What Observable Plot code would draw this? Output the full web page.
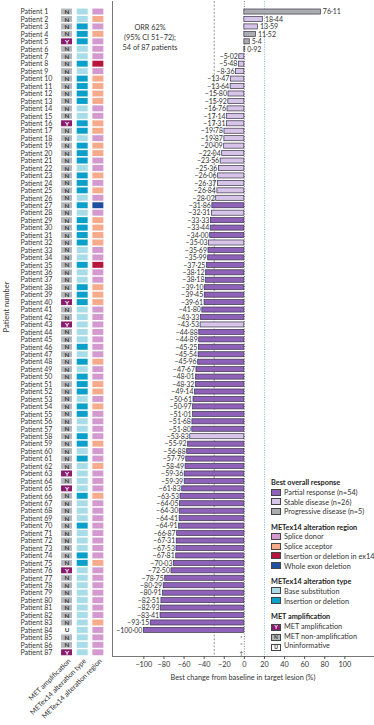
<!DOCTYPE html>
<html><head><meta charset="utf-8">
<script src="https://cdn.jsdelivr.net/npm/d3@7"></script>
<script src="https://cdn.jsdelivr.net/npm/@observablehq/plot@0.6"></script>
<style>
body{margin:0;background:#fff;}
#wrap{position:relative;width:374px;height:725px;font-family:Lato,"Open Sans",sans-serif;color:#333;overflow:hidden;background:#fff;}
#wrap svg{position:absolute;top:0;left:0;}
.lg{position:absolute;left:271px;font-size:7.3px;line-height:10px;height:10px;white-space:nowrap;color:#333;}
.lg.b{font-weight:700;color:#222;}
.sw{display:inline-block;width:8px;height:5px;border:0.8px solid #444;margin-right:3px;vertical-align:-0.5px;box-sizing:content-box;font-size:5px;line-height:5px;text-align:center;font-weight:700;}
#orr{position:absolute;left:95px;top:23px;width:110px;text-align:center;font-size:7.3px;line-height:10px;color:#333;}
#xt{position:absolute;left:112px;width:262px;top:673px;text-align:center;font-size:7.3px;color:#333;}
</style></head>
<body><div id="wrap"></div>
<script>
const patients = d3.range(1, 88).map(i => "Patient " + i);
const change = [76.11, 18.44, 13.59, 11.52, 5.4, 0.92, -5.02, -5.48, -8.36, -13.47, -13.64, -15.80, -15.92, -16.76, -17.14, -17.31, -19.78, -19.87, -20.09, -22.04, -23.56, -25.36, -26.06, -26.37, -26.84, -28.02, -31.86, -32.31, -33.33, -33.44, -34.00, -35.03, -35.69, -35.99, -37.25, -38.12, -38.18, -39.10, -39.45, -39.61, -41.80, -43.33, -43.53, -44.88, -44.89, -45.25, -45.54, -45.96, -47.67, -48.01, -48.32, -49.14, -50.61, -50.97, -51.01, -51.68, -51.80, -53.83, -55.92, -56.88, -57.79, -58.49, -59.36, -59.39, -61.83, -63.53, -64.05, -64.30, -64.41, -64.91, -66.87, -67.31, -67.53, -67.81, -70.03, -72.50, -78.75, -80.29, -80.91, -82.51, -82.93, -83.41, -93.15, -100.00, null, null, null];
const response = ["PD","SD","SD","PD","PD","PD",
 "SD","SD","SD","SD","SD","SD","SD","SD","SD","SD","SD","SD","SD","SD","SD","SD","SD","SD","SD","SD",
 "PR","SD","PR","PR","PR","SD","PR","PR","PR","PR","PR","PR","PR","PR","PR","PR","SD",
 "PR","PR","PR","PR","PR","PR","PR","PR","PR","PR","PR","PR","PR","PR","SD",
 "PR","PR","PR","PR","PR","PR","PR","PR","PR","PR","PR","PR","PR","PR","PR","PR","PR","PR","PR","PR","PR","PR","PR","PR","PR","PR",
 null,null,null];
const valueLabels = {"Patient 5": "5·4"};
const markers = [["Patient 85","*"],["Patient 86","*"],["Patient 87","†"]];
const amplification = ["N","N","N","N","Y","N","N","N","N","N","N","N","N","N","N",
 "Y","N","N","N","N","N","N","N","N","N","N","N","N","N","N","N",
 "N","N","N","N","N","N","N","N","Y","N","N","Y","N","N","N","N",
 "N","N","N","N","N","N","N","N","N","N","N","N","N","N","N","Y",
 "N","Y","N","N","N","N","N","N","N","N","N","N","Y","N","N","N",
 "N","N","N","N","U","N","N","Y"];
const altType = ["B","B","I","I","I","B","B","I","B","I","I","I","I","B","B",
 "I","I","B","I","I","I","B","I","I","I","B","I","B","I","I","I",
 "I","B","B","I","B","B","I","I","I","B","B","B","B","B","I","B",
 "I","B","I","I","I","B","I","I","B","B","I","I","B","I","B","B",
 "B","B","I","B","B","B","I","B","B","B","I","I","B","B","B","B",
 "B","B","B","B","B","B","B","B"];
const altRegion = ["D","A","D","A","D","D","D","X","D","A","A","A","A","D","D",
 "A","A","D","A","A","D","D","A","D","A","D","W","D","A","A","A",
 "A","D","D","X","D","D","A","A","A","D","D","D","D","D","D","D",
 "A","D","D","A","A","D","A","D","D","D","D","A","D","D","A","D",
 "D","D","A","D","D","D","D","D","D","D","D","A","D","D","D","D",
 "D","D","D","A","D","D","D","D"];
const columns = ["MET amplification","METex14 alteration type","METex14 alteration region"];
const xTicks = [-100,-80,-60,-40,-20,0,20,40,60,80,100];

const respColor = {PR:"#8e62b8", SD:"#d6c5e8", PD:"#a9acb1"};
const ampColor = {Y:"#8a1c6e", N:"#b4b7bb", U:"#ffffff"};
const typeColor = {B:"#a8dce9", I:"#0aa0c9"};
const regColor = {D:"#d49ad0", A:"#f8ab8c", X:"#b8153c", W:"#1f4f9f"};

const fmt = v => (v < 0 ? "−" : "") + Math.abs(v).toFixed(2).replace(".", "·");
const rows = patients.map((p, i) => ({p, v: change[i], r: response[i]}));
const bars = rows.filter(d => d.v != null).map(d => ({...d, lab: valueLabels[d.p] || fmt(d.v)}));
const mk = markers.map(([p, m]) => ({p, m}));

const yBand = {domain: patients, range: [7.8, 656], paddingInner: 0.32, paddingOuter: 0.16, axis: null, round: false};
const sty = {background: "transparent", overflow: "visible", fontFamily: "Lato, 'Open Sans', sans-serif", color: "#333"};

const barPlot = Plot.plot({
  width: 374, height: 725,
  marginLeft: 112, marginRight: 0, marginTop: 1, marginBottom: 69,
  style: sty,
  x: {domain: [-131.2, 129.5], axis: null},
  y: yBand,
  marks: [
    Plot.ruleX([0], {stroke: "#444", strokeWidth: 0.7, strokeDasharray: "1,1.5"}),
    Plot.ruleX([-30], {stroke: "#666", strokeWidth: 0.7, strokeDasharray: "2,1.6"}),
    Plot.ruleX([20], {stroke: "#7fb0d0", strokeWidth: 0.8, strokeDasharray: "1.2,1.2"}),
    Plot.barX(bars, {x: "v", y: "p", fill: d => respColor[d.r], stroke: "#3d3347", strokeWidth: 0.7}),
    Plot.text(bars.filter(d => d.v < 0), {x: "v", y: "p", text: "lab", textAnchor: "end", dx: -1.5, fontSize: 7, fill: "#333"}),
    Plot.text(bars.filter(d => d.v >= 0), {x: "v", y: "p", text: "lab", textAnchor: "start", dx: 2, fontSize: 7, fill: "#333"}),
    Plot.text(mk, {x: () => 0, y: "p", text: "m", dx: -3, fontSize: 6, fill: "#333"}),
    Plot.ruleX([-131.2], {stroke: "#555", strokeWidth: 0.8}),
    Plot.frame({anchor: "bottom", stroke: "#555", strokeWidth: 0.8}),
    Plot.axisX({ticks: xTicks, tickFormat: d => d < 0 ? "−" + (-d) : String(d), tickSize: 3, tickPadding: 2.5, fontSize: 7.3, label: null, stroke: "#555"})
  ]
});

const cellRows = [];
patients.forEach((p, i) => {
  cellRows.push({p, col: columns[0], fill: ampColor[amplification[i]], letter: amplification[i]});
  cellRows.push({p, col: columns[1], fill: typeColor[altType[i]]});
  cellRows.push({p, col: columns[2], fill: regColor[altRegion[i]]});
});

const leftPlot = Plot.plot({
  width: 112, height: 725,
  marginLeft: 58.7, marginRight: 6.3, marginTop: 7.8, marginBottom: 69,
  style: sty,
  x: {domain: columns, paddingInner: 0.3, paddingOuter: 0.15, axis: null, round: false},
  y: {...yBand, paddingInner: 0.2, paddingOuter: 0.1},
  color: {type: "identity"},
  marks: [
    Plot.cell(cellRows, {x: "col", y: "p", fill: "fill"}),
    Plot.text(cellRows.filter(d => d.letter), {x: "col", y: "p", text: "letter", fill: d => d.letter === "Y" ? "#ffffff" : "#3a3a3a", fontSize: 6.3, fontWeight: "bold"}),
    Plot.text(patients, {y: d => d, text: d => d, frameAnchor: "left", textAnchor: "start", dx: -38.7, fontSize: 7, fill: "#333"}),
    Plot.text(["Patient number"], {text: d => d, frameAnchor: "left", rotate: -90, dx: -52.5, fontSize: 7.5, fill: "#333"}),
    Plot.text(columns, {x: d => d, text: d => d, frameAnchor: "bottom", textAnchor: "end", rotate: -45, dx: 4, dy: 5, fontSize: 7, fill: "#333"})
  ]
});

const wrap = document.getElementById("wrap");
wrap.appendChild(barPlot);
wrap.appendChild(leftPlot);

const orr = document.createElement("div");
orr.id = "orr";
orr.innerHTML = "ORR 62%<br>(95% CI 51–72);<br>54 of 87 patients";
wrap.appendChild(orr);

const xt = document.createElement("div");
xt.id = "xt";
xt.textContent = "Best change from baseline in target lesion (%)";
wrap.appendChild(xt);

const legend = [
  {t: "Best overall response", b: true, y: 483},
  {t: "Partial response (n=54)", c: respColor.PR, y: 493},
  {t: "Stable disease (n=26)", c: respColor.SD, y: 502.7},
  {t: "Progressive disease (n=5)", c: respColor.PD, y: 512.3},
  {t: "METex14 alteration region", b: true, y: 527.5},
  {t: "Splice donor", c: regColor.D, y: 537.2},
  {t: "Splice acceptor", c: regColor.A, y: 547},
  {t: "Insertion or deletion in ex14", c: regColor.X, y: 556.8},
  {t: "Whole exon deletion", c: regColor.W, y: 566.6},
  {t: "METex14 alteration type", b: true, y: 582},
  {t: "Base substitution", c: typeColor.B, y: 591.8},
  {t: "Insertion or deletion", c: typeColor.I, y: 601.6},
  {t: "MET amplification", b: true, y: 617},
  {t: "MET amplification", c: ampColor.Y, l: "Y", lc: "#fff", y: 626.8},
  {t: "MET non-amplification", c: ampColor.N, l: "N", lc: "#333", y: 636.6},
  {t: "Uninformative", c: "#fff", l: "U", lc: "#333", y: 646.4}
];
legend.forEach(e => {
  const d = document.createElement("div");
  d.className = "lg" + (e.b ? " b" : "");
  d.style.top = (e.y - 5) + "px";
  if (e.c) {
    const s = document.createElement("span");
    s.className = "sw";
    s.style.background = e.c;
    if (e.l) { s.textContent = e.l; s.style.color = e.lc; }
    d.appendChild(s);
  }
  d.appendChild(document.createTextNode(e.t));
  wrap.appendChild(d);
});
</script></body></html>
